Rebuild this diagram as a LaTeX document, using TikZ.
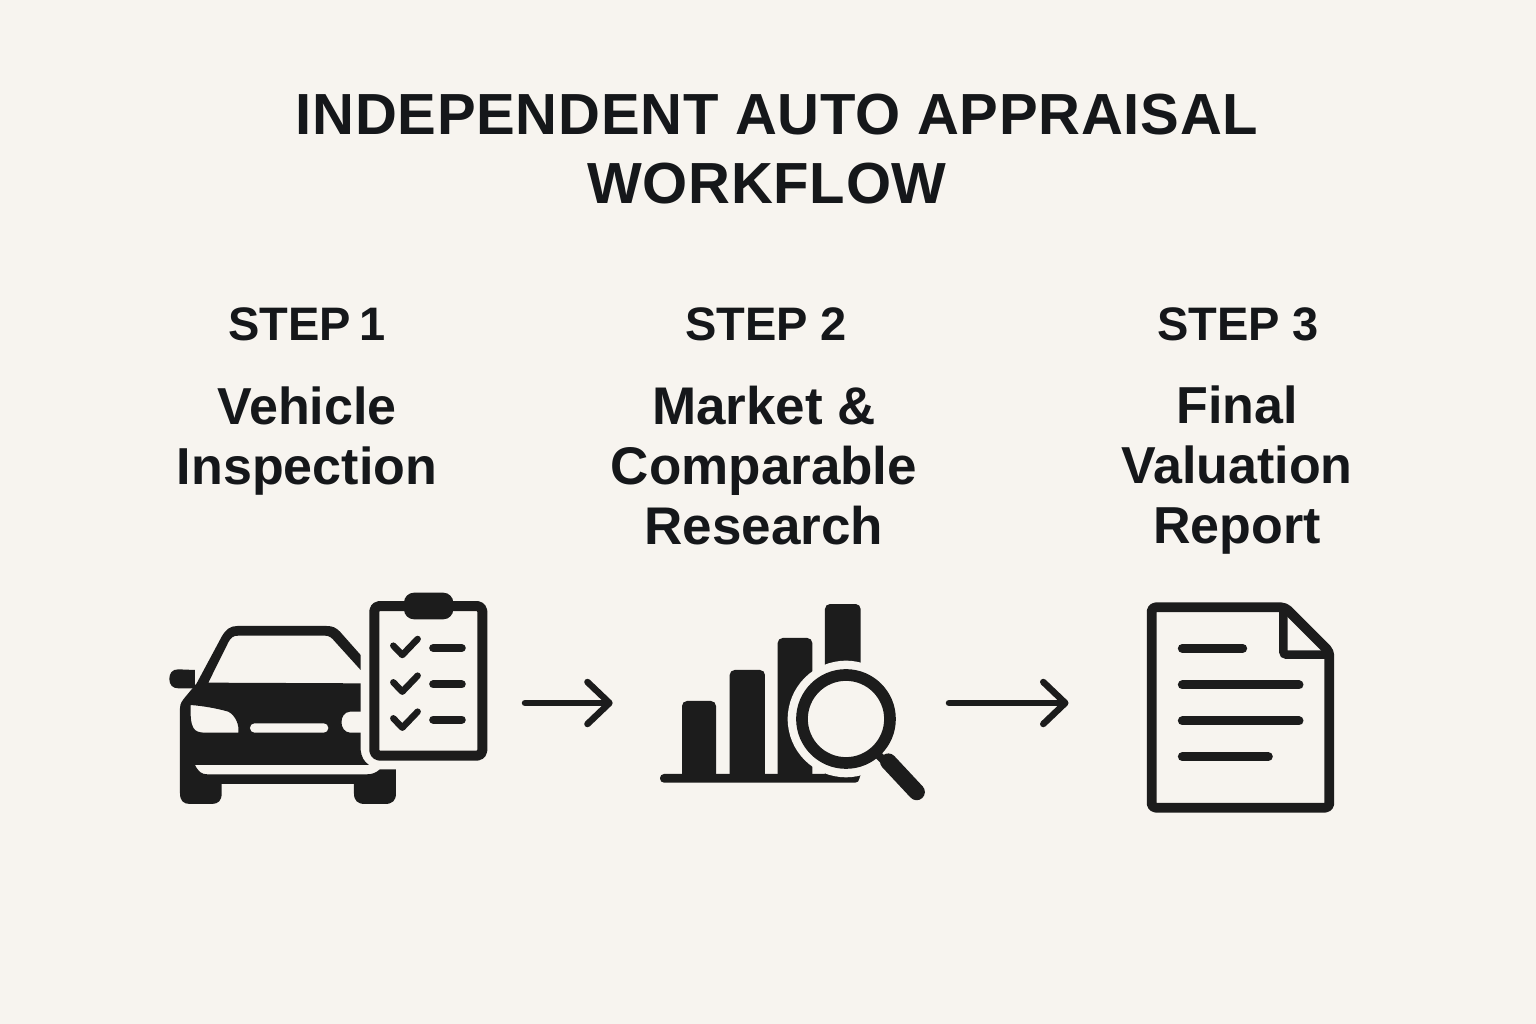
\documentclass[tikz,border=0pt]{standalone}
\usepackage{fontspec}
\setmainfont{Liberation Sans}
\newfontfamily\titlefont[LetterSpace=1.2]{Liberation Sans}
\usetikzlibrary{arrows.meta,positioning}
\definecolor{paper}{HTML}{F7F4EF}
\definecolor{ink}{HTML}{1C1C1C}
\definecolor{textink}{HTML}{15171A}

\begin{document}
\begin{tikzpicture}[x=1pt,y=-1pt,
    heading/.style={inner sep=0pt,text=textink,font=\titlefont\fontsize{58}{69}\selectfont\bfseries},
    steplabel/.style={inner sep=0pt,text=textink,font=\fontsize{47}{47}\selectfont\bfseries},
    steptitle/.style={inner sep=0pt,text=textink,align=center,font=\fontsize{52}{60}\selectfont\bfseries},
    iconbox/.style={inner sep=0pt,outer sep=0pt,minimum height=220pt},
    flowarrow/.style={draw=ink,line width=6.5pt,line cap=round,-{Straight Barb[length=22pt,width=42pt,line width=6.5pt,round]}},
    icon/.style={shift={#1},x=0.3333pt,y=-0.3333pt},
    inkline/.style={draw=ink,line cap=round,line join=round}]
    \fill [paper] (0,0) rectangle (1536,1024);
    \useasboundingbox (0,0) rectangle (1536,1024);

    \node [heading] (title1) at (777,115) {INDEPENDENT AUTO APPRAISAL};
    \node [heading] (title2) at (767,184) {WORKFLOW};

    \node [steplabel] (label1) at (307,324) {STEP\kern-5pt\ 1};
    \node [steplabel] (label2) at (766,324) {STEP 2};
    \node [steplabel] (label3) at (1238,324) {STEP 3};
    \node [steptitle] (name1) at (307,441) {Vehicle\\Inspection};
    \node [steptitle,font=\fontsize{53}{60}\selectfont\bfseries] (name2) at (764,465.5) {Market \&\\Comparable\\Research};
    \node [steptitle] (name3) at (1237,470) {Final\\Valuation\\Report};

    % invisible boxes around the icons, the arrows run between them
    \node [iconbox,minimum width=358pt] (icon1) at (346,703) {};
    \node [iconbox,minimum width=336.3pt] (icon2) at (780.85,703) {};
    \node [iconbox,minimum width=331.5pt] (icon3) at (1234.25,703) {};
    \draw [flowarrow] (icon1) -- (icon2);
    \draw [flowarrow] (icon2) -- (icon3);

    % car
    \begin{scope}[icon={(150,580)}]
    \fill [ink,even odd rule] (140,310) -- (215,170) .. controls (228,148) and (240,138) .. (262,138)
        -- (530,138) .. controls (548,138) and (558,143) .. (570,155) -- (632,225) -- (632,270)
        -- (555,185) .. controls (545,173) and (538,167) .. (525,167) -- (265,167)
        .. controls (250,167) and (243,172) .. (235,187) -- (175,308) -- (632,310) -- (632,395) -- (600,395)
        .. controls (566,397) and (566,456) .. (600,458) -- (632,458) -- (632,510)
        .. controls (634,530) and (642,545) .. (657,555) -- (135,555)
        .. controls (145,575) and (155,583) .. (172,583) -- (650,583)
        .. controls (668,583) and (678,578) .. (690,568) -- (738,568) -- (738,640)
        .. controls (738,662) and (727,672) .. (705,672) -- (645,672)
        .. controls (623,672) and (612,662) .. (612,640) -- (612,612) -- (215,612) -- (215,640)
        .. controls (215,662) and (205,672) .. (185,672) -- (120,672)
        .. controls (100,672) and (90,662) .. (90,640) -- (90,385)
        .. controls (90,370) and (97,362) .. (105,352) -- cycle
        (122,375) .. controls (160,378) and (200,385) .. (235,395)
        .. controls (258,408) and (268,435) .. (265,458) -- (165,458)
        .. controls (130,458) and (120,445) .. (122,375) -- cycle;
    \fill [paper,rounded corners=4.6pt] (300,430) rectangle (535,458);
    \fill [ink] (135,270) -- (85,268) .. controls (66,268) and (58,280) .. (58,297)
        .. controls (58,315) and (68,325) .. (85,325) -- (135,325) -- cycle;
    \end{scope}

    % clipboard
    \begin{scope}[icon={(150,580)}]
    \draw [ink,line width=10pt,line join=round,rounded corners=5pt] (673,78) -- (997,78) -- (997,527) -- (673,527) -- cycle;
    \fill [ink,rounded corners=10pt] (762,38) rectangle (910,118);
    \foreach \y/\z in {0/204,110/313,218/419}{
        \draw [inkline,line width=6.5pt] (730,197+\y) -- (757,225+\y) -- (803,177+\y);
        \draw [inkline,line width=8.3pt] (850,\z) -- (935,\z);
    }
    \end{scope}

    % bars and magnifier
    \begin{scope}[icon={(640,590)}]
    \foreach \xa/\xb/\ytop in {126/228/333,269/375/240,413/517/144,555/662/42}
        \fill [ink,rounded corners=5pt] (\xa,\ytop) rectangle (\xb,570);
    \fill [ink,rounded corners=4pt] (60,552) rectangle (658,578);
    \fill [paper] (618,387) circle (58.3pt);
    \draw [ink,line width=11.7pt] (618,387) circle (44pt);
    \draw [ink,line width=8pt] (700,480) -- (745,525);
    \draw [draw=ink,line width=16.5pt,line cap=round] (745,515) -- (830,606);
    \end{scope}

    % report
    \begin{scope}[icon={(1130,590)}]
    \draw [ink,line width=9.8pt,line join=round,rounded corners=4pt] (65,52) -- (465,52) -- (598,185) -- (598,653) -- (65,653) -- cycle;
    \draw [ink,line width=8.5pt,rounded corners=3pt] (460,52) -- (460,194) -- (598,194);
    \foreach \y/\xb in {175/338,285/507,393/507,500/415}
        \draw [inkline,line width=9pt] (157,\y) -- (\xb,\y);
    \end{scope}
\end{tikzpicture}
\end{document}
